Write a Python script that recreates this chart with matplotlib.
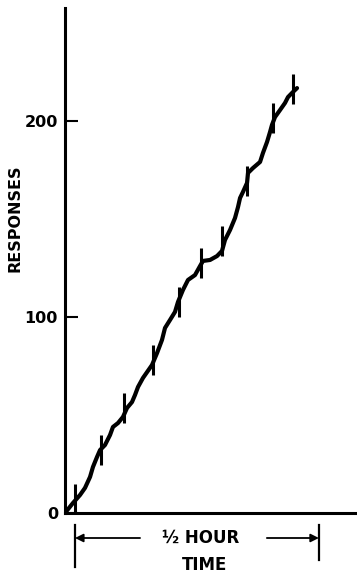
import matplotlib
matplotlib.use("Agg")
import matplotlib.pyplot as plt
from matplotlib.transforms import blended_transform_factory

# ---- data (time in minutes, cumulative responses) ----
time_min = [0.00, 0.98, 1.85, 2.46, 3.08, 3.44, 3.94, 4.31, 4.92, 5.54, 5.90,
            6.52, 7.13, 7.63, 8.24, 8.61, 8.98, 9.59, 10.70, 11.32, 11.93,
            12.30, 12.92, 13.53, 13.90, 14.51, 15.13, 15.99, 16.61, 16.97,
            17.84, 18.70, 19.31, 19.68, 20.30, 20.91, 21.28, 21.53, 21.89,
            22.39, 22.51, 23.12, 23.99, 24.35, 24.85, 25.22, 25.46, 25.83,
            26.45, 27.06, 27.43, 28.04, 28.54]
responses = [0, 5.1, 9.2, 12.8, 18.4, 23.5, 28.6, 32.1, 34.7, 39.8, 43.9,
             45.9, 49.0, 53.6, 56.6, 60.2, 64.3, 68.9, 75.5, 81.6, 88.3,
             94.4, 98.5, 102.6, 107.7, 113.8, 118.9, 121.4, 126.0, 128.6,
             129.1, 131.1, 133.7, 139.3, 144.4, 150.5, 156.1, 160.7, 163.8,
             168.4, 173.5, 176.0, 179.1, 183.7, 189.3, 194.4, 198.0, 202.0,
             205.6, 209.2, 212.2, 214.8, 216.8]

# reinforcement marks (hatches)
mark_time = [1.23, 4.43, 7.26, 10.82, 14.02, 16.73, 19.31, 22.39, 25.58, 28.04]
mark_resp = [7.1, 32.1, 53.6, 78.1, 107.7, 127.6, 138.8, 169.4, 201.5, 216.3]

ytick_values = [0, 100, 200]
ytick_labels = ["0", "100", "200"]
bracket_start = 1.23
bracket_minutes = 30

W, H = 357, 575
fig = plt.figure(figsize=(W / 100, H / 100), dpi=100)
ax = fig.add_axes([65 / W, (H - 513) / H, (W - 65) / W, (513 - 8) / H])

ax.plot(time_min, responses, color="black", lw=3.0,
        solid_joinstyle="round", solid_capstyle="round")
ax.plot(mark_time, mark_resp, ls="none", marker="|", color="black",
        markersize=21, markeredgewidth=2.2)

ax.set_xlim(0, (W - 65) / 8.13)
ax.set_ylim(0, (513 - 8) / 1.96)

for s in ["top", "right"]:
    ax.spines[s].set_visible(False)
for s in ["left", "bottom"]:
    ax.spines[s].set_linewidth(2.2)
    ax.spines[s].set_color("black")

ax.set_xticks([])
ax.set_yticks(ytick_values)
ax.set_yticklabels(ytick_labels, fontsize=11.5, fontweight="bold")
ax.tick_params(axis="y", direction="in", length=9, width=1.5, pad=5)

fig.text(15 / W, 1 - 218 / H, "RESPONSES", rotation=90, ha="center",
         va="center", fontsize=11.5, fontweight="bold")

# time bracket below the axis
tr = blended_transform_factory(ax.transData, fig.transFigure)
bracket_end = bracket_start + bracket_minutes
y_arrow = 1 - 538 / H
ax.plot([bracket_start, bracket_start], [1 - 525 / H, 1 - 567 / H],
        transform=tr, color="black", lw=1.6, clip_on=False)
ax.plot([bracket_end, bracket_end], [1 - 525 / H, 1 - 560 / H],
        transform=tr, color="black", lw=1.6, clip_on=False)
ax.annotate("", xy=(bracket_start, y_arrow), xycoords=tr,
            xytext=(bracket_start + 8.0, y_arrow), textcoords=tr,
            arrowprops=dict(arrowstyle="-|>", color="black", lw=1.3,
                            mutation_scale=12, shrinkA=0, shrinkB=0))
ax.annotate("", xy=(bracket_end, y_arrow), xycoords=tr,
            xytext=(bracket_end - 6.4, y_arrow), textcoords=tr,
            arrowprops=dict(arrowstyle="-|>", color="black", lw=1.3,
                            mutation_scale=12, shrinkA=0, shrinkB=0))
ax.text(bracket_start + bracket_minutes * 0.515, y_arrow, "½ HOUR",
        transform=tr, ha="center", va="center", fontsize=12,
        fontweight="bold")
ax.text(bracket_start + bracket_minutes * 0.53, 1 - 565 / H, "TIME",
        transform=tr, ha="center", va="center", fontsize=12,
        fontweight="bold")

fig.savefig("out.png", dpi=100)
